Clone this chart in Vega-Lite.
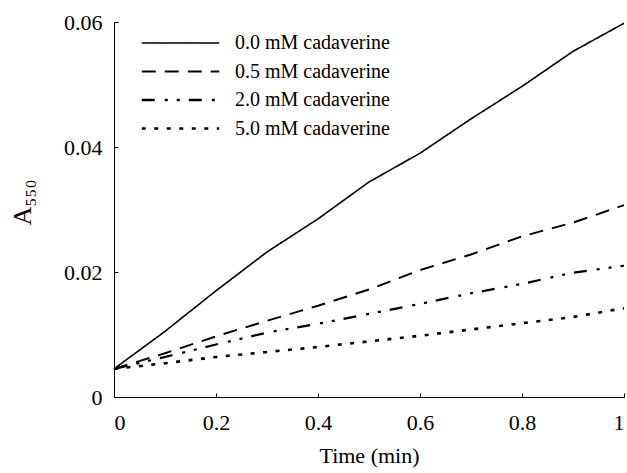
{
  "$schema": "https://vega.github.io/schema/vega-lite/v6.json",
  "autosize": "none",
  "width": 510,
  "height": 375,
  "padding": {"left": 114, "top": 22, "right": 3, "bottom": 76},
  "background": "white",
  "config": {
    "view": {"stroke": null},
    "font": "Liberation Serif",
    "axis": {
      "grid": false,
      "domainColor": "black",
      "tickColor": "black",
      "labelColor": "black",
      "titleColor": "black",
      "labelFont": "Liberation Serif",
      "titleFont": "Liberation Serif",
      "labelFontSize": 22,
      "titleFontSize": 22,
      "titleFontWeight": "normal",
      "tickSize": -4,
      "domainWidth": 1
    }
  },
  "data": {
    "values": [
      {"t": 0.0, "a": 0.0045, "s": "0.0 mM cadaverine"},
      {"t": 0.1, "a": 0.0105, "s": "0.0 mM cadaverine"},
      {"t": 0.2, "a": 0.017, "s": "0.0 mM cadaverine"},
      {"t": 0.3, "a": 0.0232, "s": "0.0 mM cadaverine"},
      {"t": 0.4, "a": 0.0285, "s": "0.0 mM cadaverine"},
      {"t": 0.5, "a": 0.0344, "s": "0.0 mM cadaverine"},
      {"t": 0.6, "a": 0.039, "s": "0.0 mM cadaverine"},
      {"t": 0.7, "a": 0.0445, "s": "0.0 mM cadaverine"},
      {"t": 0.8, "a": 0.0497, "s": "0.0 mM cadaverine"},
      {"t": 0.9, "a": 0.0553, "s": "0.0 mM cadaverine"},
      {"t": 1.0, "a": 0.0598, "s": "0.0 mM cadaverine"},
      {"t": 0.0, "a": 0.0045, "s": "0.5 mM cadaverine"},
      {"t": 0.1, "a": 0.007, "s": "0.5 mM cadaverine"},
      {"t": 0.2, "a": 0.0097, "s": "0.5 mM cadaverine"},
      {"t": 0.3, "a": 0.0122, "s": "0.5 mM cadaverine"},
      {"t": 0.4, "a": 0.0146, "s": "0.5 mM cadaverine"},
      {"t": 0.5, "a": 0.0172, "s": "0.5 mM cadaverine"},
      {"t": 0.6, "a": 0.0203, "s": "0.5 mM cadaverine"},
      {"t": 0.7, "a": 0.0228, "s": "0.5 mM cadaverine"},
      {"t": 0.8, "a": 0.0257, "s": "0.5 mM cadaverine"},
      {"t": 0.9, "a": 0.0279, "s": "0.5 mM cadaverine"},
      {"t": 1.0, "a": 0.0307, "s": "0.5 mM cadaverine"},
      {"t": 0.0, "a": 0.0045, "s": "2.0 mM cadaverine"},
      {"t": 0.1, "a": 0.0064, "s": "2.0 mM cadaverine"},
      {"t": 0.2, "a": 0.0084, "s": "2.0 mM cadaverine"},
      {"t": 0.3, "a": 0.0103, "s": "2.0 mM cadaverine"},
      {"t": 0.4, "a": 0.0117, "s": "2.0 mM cadaverine"},
      {"t": 0.5, "a": 0.0133, "s": "2.0 mM cadaverine"},
      {"t": 0.6, "a": 0.0149, "s": "2.0 mM cadaverine"},
      {"t": 0.7, "a": 0.0166, "s": "2.0 mM cadaverine"},
      {"t": 0.8, "a": 0.0181, "s": "2.0 mM cadaverine"},
      {"t": 0.9, "a": 0.0199, "s": "2.0 mM cadaverine"},
      {"t": 1.0, "a": 0.021, "s": "2.0 mM cadaverine"},
      {"t": 0.0, "a": 0.0045, "s": "5.0 mM cadaverine"},
      {"t": 0.1, "a": 0.0054, "s": "5.0 mM cadaverine"},
      {"t": 0.2, "a": 0.0064, "s": "5.0 mM cadaverine"},
      {"t": 0.3, "a": 0.0072, "s": "5.0 mM cadaverine"},
      {"t": 0.4, "a": 0.008, "s": "5.0 mM cadaverine"},
      {"t": 0.5, "a": 0.0089, "s": "5.0 mM cadaverine"},
      {"t": 0.6, "a": 0.0098, "s": "5.0 mM cadaverine"},
      {"t": 0.7, "a": 0.0108, "s": "5.0 mM cadaverine"},
      {"t": 0.8, "a": 0.0118, "s": "5.0 mM cadaverine"},
      {"t": 0.9, "a": 0.0128, "s": "5.0 mM cadaverine"},
      {"t": 1.0, "a": 0.0142, "s": "5.0 mM cadaverine"}
    ]
  },
  "mark": {"type": "line", "color": "black"},
  "encoding": {
    "x": {
      "field": "t", "type": "quantitative",
      "scale": {"domain": [0, 1], "nice": false},
      "axis": {"values": [0, 0.2, 0.4, 0.6, 0.8, 1], "format": "~g", "title": "Time (min)", "labelPadding": 19, "titlePadding": 12}
    },
    "y": {
      "field": "a", "type": "quantitative",
      "scale": {"domain": [0, 0.06], "nice": false},
      "axis": {"values": [0, 0.02, 0.04, 0.06], "labelExpr": "datum.value == 0 ? '0' : format(datum.value, '.2f')", "title": "A₅₅₀", "labelPadding": 16, "titlePadding": 28, "titleFontSize": 26, "titleY": 180}
    },
    "strokeWidth": {
      "field": "s", "type": "nominal",
      "scale": {
        "domain": ["0.0 mM cadaverine", "0.5 mM cadaverine", "2.0 mM cadaverine", "5.0 mM cadaverine"],
        "range": [1.6, 2.6, 2.6, 2.6]
      },
      "legend": null
    },
    "strokeDash": {
      "field": "s", "type": "nominal",
      "scale": {
        "domain": ["0.0 mM cadaverine", "0.5 mM cadaverine", "2.0 mM cadaverine", "5.0 mM cadaverine"],
        "range": [[1, 0], [14, 9], [13, 10, 3, 9, 3, 9], [4, 8.5]]
      },
      "legend": {
        "title": null,
        "orient": "none",
        "legendX": 26,
        "legendY": 12,
        "symbolType": "stroke",
        "symbolStrokeColor": "black",
        "symbolStrokeWidth": 2.4,
        "symbolSize": 6000,
        "clipHeight": 18,
        "labelFont": "Liberation Serif",
        "labelFontSize": 20,
        "labelColor": "black",
        "labelOffset": 14,
        "rowPadding": 8.5
      }
    }
  }
}
